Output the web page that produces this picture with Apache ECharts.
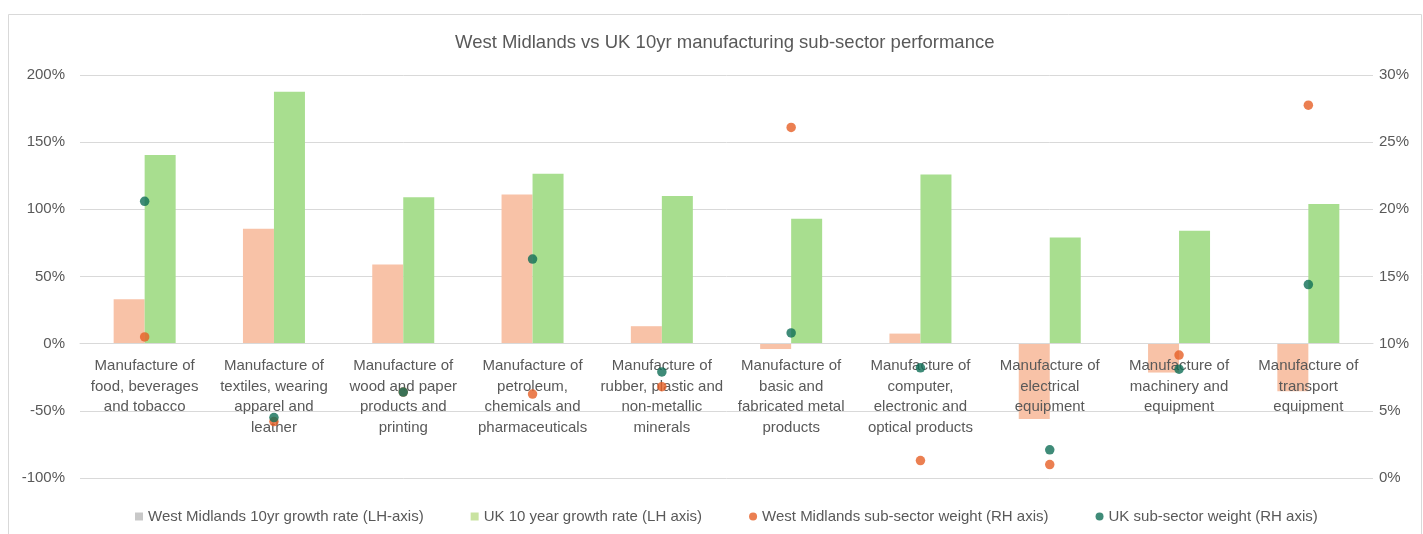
<!DOCTYPE html>
<html>
<head>
<meta charset="utf-8">
<title>West Midlands vs UK manufacturing</title>
<script src="https://cdn.jsdelivr.net/npm/echarts@6/dist/echarts.min.js"></script>
<style>
  html, body { margin: 0; padding: 0; background: #fff; }
  #chart { width: 1423px; height: 534px; }
</style>
</head>
<body>
<div id="chart"></div>
<script>
// categories (x axis tick labels, wrapped as in the source)
const categories = [
  'Manufacture of\nfood, beverages\nand tobacco',
  'Manufacture of\ntextiles, wearing\napparel and\nleather',
  'Manufacture of\nwood and paper\nproducts and\nprinting',
  'Manufacture of\npetroleum,\nchemicals and\npharmaceuticals',
  'Manufacture of\nrubber, plastic and\nnon-metallic\nminerals',
  'Manufacture of\nbasic and\nfabricated metal\nproducts',
  'Manufacture of\ncomputer,\nelectronic and\noptical products',
  'Manufacture of\nelectrical\nequipment',
  'Manufacture of\nmachinery and\nequipment',
  'Manufacture of\ntransport\nequipment'
]

// 10yr growth rates, % (left axis)
const wmGrowth = [33, 85.5, 59, 111, 13, -4, 7.5, -56, -21.5, -35.5]
const ukGrowth = [140.5, 187.5, 109, 126.5, 110, 93, 126, 79, 84, 104]

// sub-sector weights, % (right axis)
const wmWeight = [10.5, 4.2, 6.4, 6.25, 6.8, 26.1, 1.3, 1.0, 9.15, 27.75]
const ukWeight = [20.6, 4.5, 6.4, 16.3, 7.9, 10.8, 8.2, 2.1, 8.1, 14.4]

const SERIES_NAMES = [
  'West Midlands 10yr growth rate (LH-axis)',
  'UK 10 year growth rate (LH axis)',
  'West Midlands sub-sector weight (RH axis)',
  'UK sub-sector weight (RH axis)'
]

const FONT = '"Liberation Sans", Arial, sans-serif'
const TEXT = '#595959'
const GRID_LINE = '#D9D9D9'

// grid box; the category labels hang from the 0% line of the left axis
const GRID_TOP = 75
const GRID_BOTTOM = 56
const LEFT_MIN = -100
const LEFT_MAX = 200
const gridHeight = 534 - GRID_TOP - GRID_BOTTOM
const zeroOffset = -gridHeight * (0 - LEFT_MIN) / (LEFT_MAX - LEFT_MIN)

const myChart = echarts.init(document.getElementById('chart'))

const option = {
  backgroundColor: '#fff',
  textStyle: { fontFamily: FONT },
  animation: false,
  // outer chart frame
  graphic: [{
    type: 'rect',
    shape: { x: 8.5, y: 14.5, width: 1413, height: 540 },
    style: { fill: 'none', stroke: '#D9D9D9', lineWidth: 1 },
    silent: true
  }],
  title: {
    text: 'West Midlands vs UK 10yr manufacturing sub-sector performance',
    left: 450,
    top: 28,
    textStyle: { fontFamily: FONT, fontSize: 18.5, fontWeight: 'normal', color: TEXT }
  },
  legend: {
    left: 130,
    bottom: 5,
    itemWidth: 8,
    itemHeight: 8,
    itemGap: 47,
    textStyle: { fontFamily: FONT, fontSize: 15, color: TEXT },
    data: [
      { name: SERIES_NAMES[0], icon: 'rect', itemStyle: { color: '#C8C8C8' } },
      { name: SERIES_NAMES[1], icon: 'rect', itemStyle: { color: '#C9E3A0' } },
      { name: SERIES_NAMES[2], icon: 'circle' },
      { name: SERIES_NAMES[3], icon: 'circle' }
    ]
  },
  grid: { left: 80, right: 50, top: GRID_TOP, bottom: GRID_BOTTOM, containLabel: false, outerBoundsMode: 'none' },
  xAxis: {
    type: 'category',
    data: categories,
    z: 3,
    offset: zeroOffset,
    axisLine: { show: true, onZero: false, lineStyle: { color: GRID_LINE } },
    axisTick: { show: false },
    axisLabel: {
      interval: 0,
      margin: 12,
      fontSize: 15,
      lineHeight: 20.5,
      color: TEXT,
      fontFamily: FONT,
      verticalAlign: 'top'
    }
  },
  yAxis: [
    {
      type: 'value',
      min: LEFT_MIN,
      max: LEFT_MAX,
      interval: 50,
      axisLine: { show: false },
      axisTick: { show: false },
      splitLine: { lineStyle: { color: GRID_LINE } },
      axisLabel: { formatter: '{value}%', color: TEXT, fontSize: 15, margin: 15 }
    },
    {
      type: 'value',
      min: 0,
      max: 30,
      interval: 5,
      axisLine: { show: false },
      axisTick: { show: false },
      splitLine: { show: false },
      axisLabel: { formatter: '{value}%', color: TEXT, fontSize: 15, margin: 6 }
    }
  ],
  series: [
    {
      name: SERIES_NAMES[0],
      type: 'bar',
      data: wmGrowth,
      barWidth: 31,
      barGap: '0%',
      itemStyle: { color: '#F8C2A7' },
      z: 2
    },
    {
      name: SERIES_NAMES[1],
      type: 'bar',
      data: ukGrowth,
      barWidth: 31,
      barGap: '0%',
      itemStyle: { color: '#A8DE8F' },
      z: 2
    },
    {
      name: SERIES_NAMES[2],
      type: 'scatter',
      yAxisIndex: 1,
      data: wmWeight,
      symbolSize: 9.5,
      itemStyle: { color: '#E65F26' },
      z: 5
    },
    {
      name: SERIES_NAMES[3],
      type: 'scatter',
      yAxisIndex: 1,
      data: ukWeight,
      symbolSize: 9.5,
      itemStyle: { color: '#0F6E56' },
      z: 6
    }
  ]
}

myChart.setOption(option)

window.addEventListener('resize', () => {
  myChart && myChart.resize()
})
</script>
</body>
</html>
